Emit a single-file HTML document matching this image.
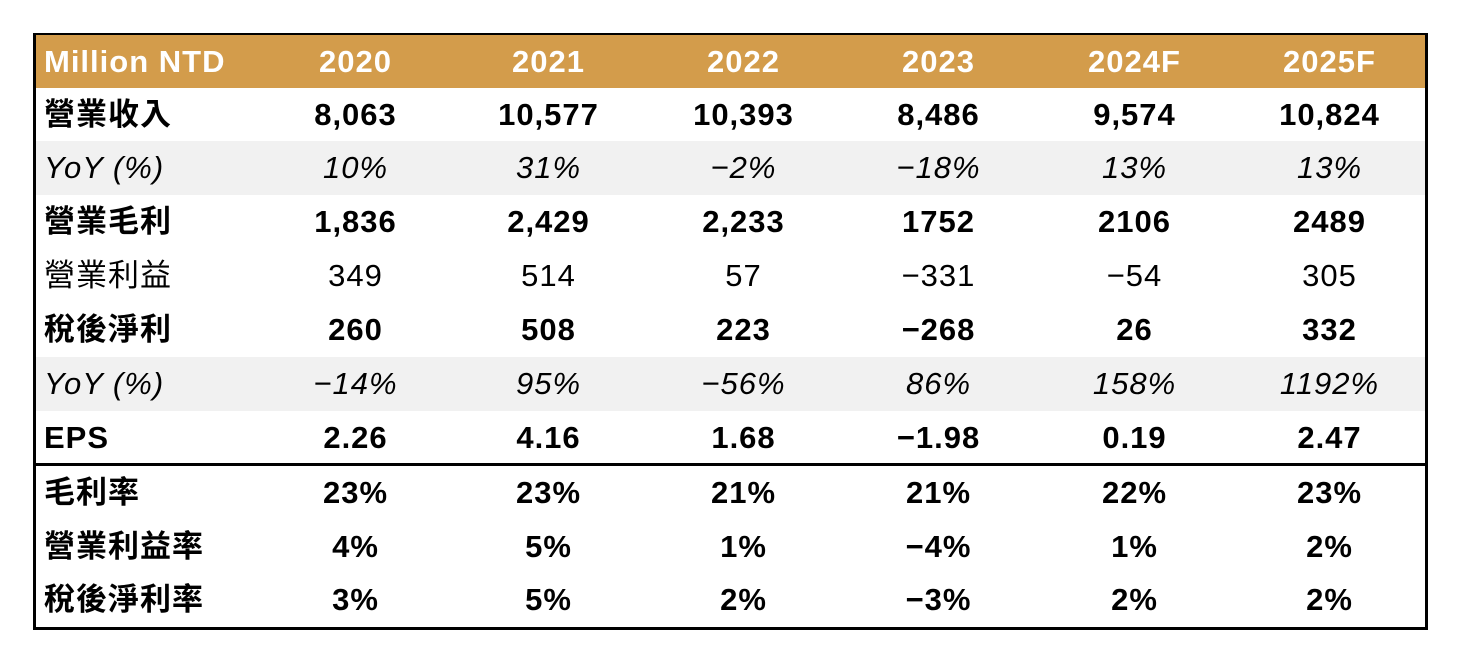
<!DOCTYPE html>
<html><head><meta charset="utf-8"><style>
body{margin:0;width:1460px;height:660px;background:#fff;position:relative;font-family:"Liberation Sans","Noto Sans CJK TC",sans-serif;overflow:hidden}
.box{position:absolute;left:33px;top:33px;width:1389px;height:591px;border:3px solid #000}
.r{position:absolute;left:36px;width:1389px;height:54px;font-size:31px;letter-spacing:1px;color:#000}
.r div{position:absolute;top:0;height:54px;line-height:54px;text-align:center;width:195px;white-space:nowrap}
.r div.l{left:8px;text-align:left;width:240px}
.b{font-weight:bold}
.i{font-style:italic}
.g{background:#f1f1f1}
.hd{background:#d39c4b;color:#fff;font-weight:bold;top:35px;height:53px}
.hd div{height:53px;line-height:53px}
</style></head><body>
<div class="box"></div>
<div class="r hd"><div class="l">Million NTD</div><div style="left:222px">2020</div><div style="left:415px">2021</div><div style="left:610px">2022</div><div style="left:805px">2023</div><div style="left:1001px">2024F</div><div style="left:1196px">2025F</div></div>
<div class="r b" style="top:88px"><div class="l">營業收入</div><div style="left:222px">8,063</div><div style="left:415px">10,577</div><div style="left:610px">10,393</div><div style="left:805px">8,486</div><div style="left:1001px">9,574</div><div style="left:1196px">10,824</div></div>
<div class="r i g" style="top:141px"><div class="l">YoY (%)</div><div style="left:222px">10%</div><div style="left:415px">31%</div><div style="left:610px">−2%</div><div style="left:805px">−18%</div><div style="left:1001px">13%</div><div style="left:1196px">13%</div></div>
<div class="r b" style="top:195px"><div class="l">營業毛利</div><div style="left:222px">1,836</div><div style="left:415px">2,429</div><div style="left:610px">2,233</div><div style="left:805px">1752</div><div style="left:1001px">2106</div><div style="left:1196px">2489</div></div>
<div class="r" style="top:249px"><div class="l">營業利益</div><div style="left:222px">349</div><div style="left:415px">514</div><div style="left:610px">57</div><div style="left:805px">−331</div><div style="left:1001px">−54</div><div style="left:1196px">305</div></div>
<div class="r b" style="top:303px"><div class="l">稅後淨利</div><div style="left:222px">260</div><div style="left:415px">508</div><div style="left:610px">223</div><div style="left:805px">−268</div><div style="left:1001px">26</div><div style="left:1196px">332</div></div>
<div class="r i g" style="top:357px"><div class="l">YoY (%)</div><div style="left:222px">−14%</div><div style="left:415px">95%</div><div style="left:610px">−56%</div><div style="left:805px">86%</div><div style="left:1001px">158%</div><div style="left:1196px">1192%</div></div>
<div class="r b" style="top:411px"><div class="l">EPS</div><div style="left:222px">2.26</div><div style="left:415px">4.16</div><div style="left:610px">1.68</div><div style="left:805px">−1.98</div><div style="left:1001px">0.19</div><div style="left:1196px">2.47</div></div>
<div style="position:absolute;left:36px;top:463px;width:1389px;height:3px;background:#000"></div>
<div class="r b" style="top:466px"><div class="l">毛利率</div><div style="left:222px">23%</div><div style="left:415px">23%</div><div style="left:610px">21%</div><div style="left:805px">21%</div><div style="left:1001px">22%</div><div style="left:1196px">23%</div></div>
<div class="r b" style="top:520px"><div class="l">營業利益率</div><div style="left:222px">4%</div><div style="left:415px">5%</div><div style="left:610px">1%</div><div style="left:805px">−4%</div><div style="left:1001px">1%</div><div style="left:1196px">2%</div></div>
<div class="r b" style="top:573px"><div class="l">稅後淨利率</div><div style="left:222px">3%</div><div style="left:415px">5%</div><div style="left:610px">2%</div><div style="left:805px">−3%</div><div style="left:1001px">2%</div><div style="left:1196px">2%</div></div>
</body></html>
